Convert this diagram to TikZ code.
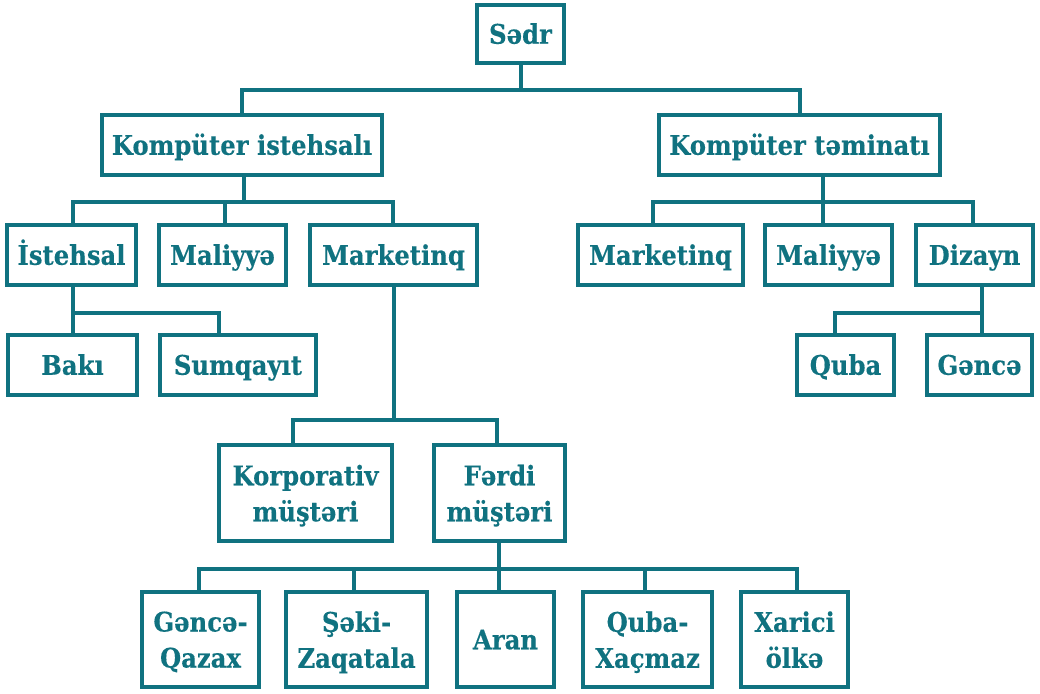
\documentclass[tikz,border=0pt]{standalone}
\usepackage{fontspec}
\setmainfont{DejaVu Serif}[FakeStretch=0.9, BoldFeatures={FakeBold=0.25}]
\usetikzlibrary{calc}
\definecolor{teal}{RGB}{16,114,128}
\tikzset{
  box/.style={draw=teal, line width=4.5pt, fill=white, inner sep=0pt,
    text=teal, font=\fontsize{27}{36}\selectfont\bfseries, align=center,
    text depth=0pt},
  one/.style={box, text height=19.5pt},
  two/.style={box},
  conn/.style={draw=teal, line width=4pt}
}
\begin{document}
\begin{tikzpicture}[x=1pt,y=-1pt]
\useasboundingbox (0,0) rectangle (1040,693);

% root and first level
\node[one, minimum width=87, minimum height=58] (sadr) at (520.5,34) {Sədr};
\node[one, minimum width=280, minimum height=60] (ki) at (242,145) {Kompüter istehsalı};
\node[one, minimum width=281, minimum height=60] (kt) at (799.5,145) {Kompüter təminatı};

% second level
\node[one, minimum width=129, minimum height=60] (ist)  at (71.5,255)  {İstehsal};
\node[one, minimum width=127, minimum height=60] (mal1) at (222.5,255) {Maliyyə};
\node[one, minimum width=167, minimum height=60] (mar1) at (393.5,255) {Marketinq};
\node[one, minimum width=165, minimum height=60] (mar2) at (660.5,255) {Marketinq};
\node[one, minimum width=127, minimum height=60] (mal2) at (828.5,255) {Maliyyə};
\node[one, minimum width=117, minimum height=60] (diz)  at (974.5,255) {Dizayn};

% third level
\node[one, minimum width=129, minimum height=60] (baki)  at (72.5,365)  {Bakı};
\node[one, minimum width=156, minimum height=60] (sum)   at (238,365)   {Sumqayıt};
\node[one, minimum width=97,  minimum height=60] (quba)  at (845.5,365) {Quba};
\node[one, minimum width=105, minimum height=60] (gence) at (979.5,365) {Gəncə};

% customers
\node[two, minimum width=173, minimum height=96] (korp)  at (305.5,493) {Korporativ\\müştəri};
\node[two, minimum width=131, minimum height=96] (ferdi) at (499.5,493) {Fərdi\\müştəri};

% regions
\node[two, minimum width=117, minimum height=95] (gq)   at (200.5,639.5) {Gəncə-\\Qazax};
\node[two, minimum width=141, minimum height=95] (sz)   at (356.5,639.5) {Şəki-\\Zaqatala};
\node[one, minimum width=97,  minimum height=95] (aran) at (505.5,639.5) {Aran};
\node[two, minimum width=129, minimum height=95] (qx)   at (647.5,639.5) {Quba-\\Xaçmaz};
\node[two, minimum width=107, minimum height=95] (xo)   at (794.5,639.5) {Xarici\\ölkə};

% connectors
\draw[conn] (sadr.south) -- (sadr.south |- 0,90);
\draw[conn] (ki.north) |- (kt.north |- 0,90) -- (kt.north);

\draw[conn] (244,0 |- ki.south) -- (244,202);
\draw[conn] (73,0 |- ist.north) |- (393,202) -- (393,0 |- mar1.north);
\draw[conn] (225,0 |- mal1.north) -- (225,202);

\draw[conn] (823,0 |- kt.south) -- (823,0 |- mal2.north);
\draw[conn] (653,0 |- mar2.north) |- (973,202) -- (973,0 |- diz.north);

\draw[conn] (73,0 |- ist.south) -- (73,0 |- baki.north);
\draw[conn] (73,313) -| (219,0 |- sum.north);

\draw[conn] (982,0 |- diz.south) -- (982,0 |- gence.north);
\draw[conn] (982,313) -| (835,0 |- quba.north);

\draw[conn] (394,0 |- mar1.south) -- (394,420);
\draw[conn] (293,0 |- korp.north) |- (497,420) -- (497,0 |- ferdi.north);

\draw[conn] (499,0 |- ferdi.south) -- (499,0 |- aran.north);
\draw[conn] (199,0 |- gq.north) |- (797,569) -- (797,0 |- xo.north);
\draw[conn] (354,569) -- (354,0 |- sz.north);
\draw[conn] (645,569) -- (645,0 |- qx.north);
\end{tikzpicture}
\end{document}
